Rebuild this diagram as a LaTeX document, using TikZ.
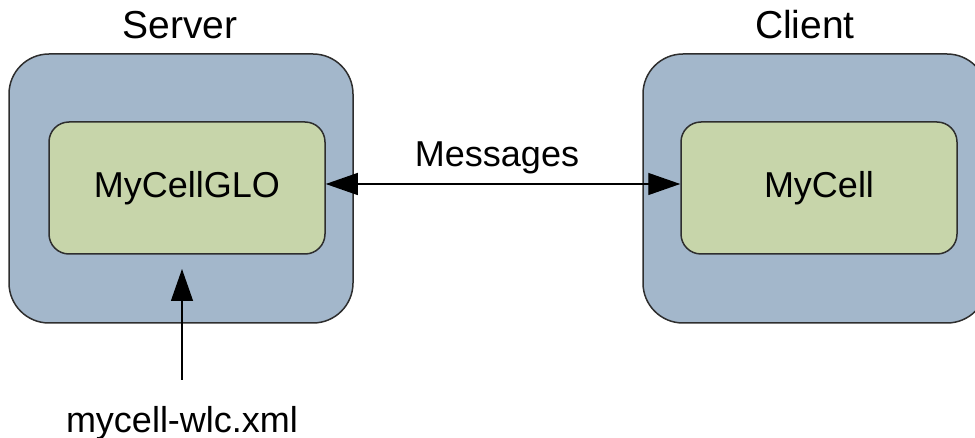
\documentclass[tikz,border=0pt]{standalone}
\usepackage{fontspec}
\setmainfont{Liberation Sans}
\usetikzlibrary{arrows.meta}
\definecolor{hostblue}{HTML}{A3B7CB}
\definecolor{cellgreen}{HTML}{C7D5AA}
\definecolor{edgegray}{HTML}{2E2E2E}

\begin{document}
\begin{tikzpicture}[x=1pt,y=-1pt,
  host/.style={draw=edgegray,line width=1.5pt,fill=hostblue,rounded corners=40pt,
    minimum width=344pt,minimum height=269pt},
  cell/.style={draw=edgegray,line width=1.5pt,fill=cellgreen,rounded corners=20pt,
    minimum width=276pt,minimum height=132pt,font=\fontsize{36}{43}\selectfont},
  title/.style={anchor=base,inner sep=0pt,font=\fontsize{39}{47}\selectfont},
  plain/.style={anchor=base,inner sep=0pt,font=\fontsize{36}{43}\selectfont},
  head/.style={line width=1.3pt}]
\useasboundingbox (0,0) rectangle (975,438);
% the two hosts
\node [host] (server) at (181,188.5) {};
\node [host] (client) at (815,188.5) {};
\node [title] (servertitle) at (180,39) {Server};
\node [title] (clienttitle) at (805,39) {Client};
% the cells inside them
\node [cell] (glo) at (187,188) {MyCellGLO};
\node [cell] (mycell) at (819,188) {MyCell};
% messages between the cells
\node [plain] (msgs) at (497,167) {Messages};
\draw [head,{Triangle[length=32pt,width=22pt]}-{Triangle[length=32pt,width=22pt]}]
  ([yshift=4pt]glo.east) -- ([yshift=4pt]mycell.west);
% config file into the server
\coordinate (inlet) at (182,269);
\node [plain] (wlc) at (182,432) {mycell-wlc.xml};
\draw [head,-{Triangle[length=32pt,width=22pt]},shorten <=26pt] (wlc.north) -- (inlet);
\end{tikzpicture}
\end{document}
